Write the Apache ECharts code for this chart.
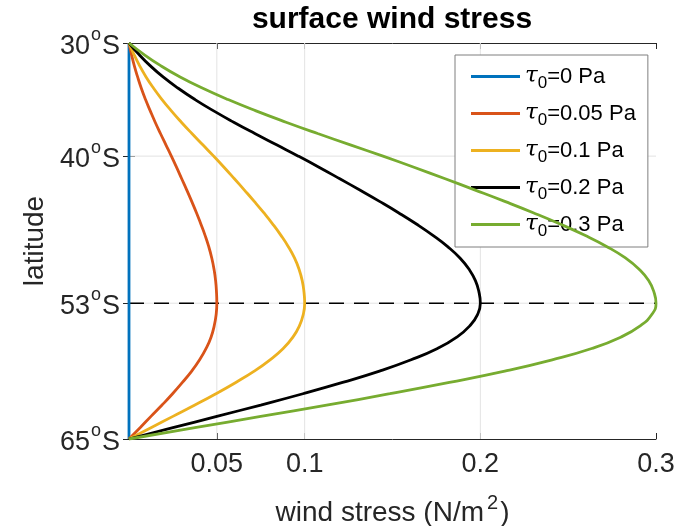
<!DOCTYPE html>
<html>
<head>
<meta charset="utf-8">
<script src="https://cdn.jsdelivr.net/npm/echarts@6/dist/echarts.min.js"></script>
<style>
  html, body { margin: 0; padding: 0; background: #fff; }
  #chart { width: 695px; height: 526px; }
</style>
</head>
<body>
<div id="chart"></div>
<script>
// ---- data ----
const latitudes = [30,31,32,33,34,35,36,37,38,39,40,41,42,43,44,45,46,47,48,49,50,51,52,53,54,55,56,57,58,59,60,61,62,63,64,65];
const tau0Labels = ['0', '0.05', '0.1', '0.2', '0.3'];
const stress_0   = [0,0,0,0,0,0,0,0,0,0,0,0,0,0,0,0,0,0,0,0,0,0,0,0,0,0,0,0,0,0,0,0,0,0,0,0];
const stress_005 = [0,0.0014,0.0030,0.0049,0.0070,0.0094,0.0121,0.0149,0.0179,0.0210,0.0241,0.0271,0.0300,0.0329,0.0357,0.0384,0.0409,0.0433,0.0454,0.0471,0.0484,0.0493,0.0498,0.0500,0.0496,0.0485,0.0467,0.0439,0.0402,0.0357,0.0304,0.0248,0.0188,0.0125,0.0063,0];
const stress_01  = [0,0.0028,0.0060,0.0097,0.0140,0.0188,0.0241,0.0298,0.0358,0.0420,0.0482,0.0542,0.0600,0.0657,0.0713,0.0767,0.0818,0.0865,0.0907,0.0942,0.0968,0.0986,0.0996,0.1000,0.0992,0.0970,0.0933,0.0878,0.0803,0.0713,0.0608,0.0495,0.0375,0.0250,0.0125,0];
const stress_02  = [0,0.0056,0.0120,0.0194,0.0280,0.0376,0.0482,0.0596,0.0716,0.0840,0.0964,0.1084,0.1200,0.1314,0.1426,0.1534,0.1636,0.1730,0.1814,0.1884,0.1936,0.1972,0.1992,0.2000,0.1984,0.1940,0.1866,0.1756,0.1606,0.1426,0.1216,0.0990,0.0750,0.0500,0.0250,0];
const stress_03  = [0,0.0084,0.0180,0.0291,0.0420,0.0564,0.0723,0.0894,0.1074,0.1260,0.1446,0.1626,0.1800,0.1971,0.2139,0.2301,0.2454,0.2595,0.2721,0.2826,0.2904,0.2958,0.2988,0.3000,0.2976,0.2910,0.2799,0.2634,0.2409,0.2139,0.1824,0.1485,0.1125,0.0750,0.0375,0];
const xTicks = [0.05, 0.1, 0.2, 0.3];
const yTicks = [30, 40, 53, 65];
const xGridLines = [0.05, 0.1, 0.2];
const yGridLines = [40, 53];
const refLatitude = 53;
const xRange = [0, 0.3];
const yRange = [30, 65];

const colors = ['#0072BD', '#D95319', '#EDB120', '#000000', '#77AC30'];
const allStress = [stress_0, stress_005, stress_01, stress_02, stress_03];

const FONT = 'Liberation Sans, Arial, Helvetica, sans-serif';
const AX = '#262626';

const series = [];
xGridLines.forEach(v => series.push({
  type: 'line', silent: true, symbol: 'none', z: 1,
  data: [[v, -yRange[0]], [v, -yRange[1]]],
  lineStyle: { color: '#e3e3e3', width: 1 }
}));
yGridLines.forEach(v => series.push({
  type: 'line', silent: true, symbol: 'none', z: 1,
  data: [[xRange[0], -v], [xRange[1], -v]],
  lineStyle: { color: '#e3e3e3', width: 1 }
}));
series.push({
  type: 'line', silent: true, symbol: 'none', z: 2,
  data: [[xRange[0], -refLatitude], [xRange[1], -refLatitude]],
  lineStyle: { color: '#000', width: 1.5, type: [15, 10] }
});
allStress.forEach((vals, k) => series.push({
  name: 'tau' + k,
  type: 'line', symbol: 'none', smooth: 0.5, z: 3 + k,
  data: latitudes.map((lat, i) => [vals[i], -lat]),
  lineStyle: { color: colors[k], width: 2.8 },
  itemStyle: { color: colors[k] }
}));

const option = {
  animation: false,
  backgroundColor: '#fff',
  title: {
    text: 'surface wind stress',
    left: 387, top: 0, textAlign: 'center',
    textStyle: { fontFamily: FONT, fontWeight: 'bold', fontSize: 30, color: '#000' }
  },
  grid: { left: 129, right: 39, top: 43, bottom: 87, containLabel: false, outerBoundsMode: 'none' },
  legend: {
    orient: 'vertical',
    left: 455, top: 55,
    icon: 'rect',
    data: allStress.map((_, k) => 'tau' + k),
    itemWidth: 49, itemHeight: 3, itemGap: 6,
    padding: [6, 12, 7, 16],
    backgroundColor: '#fff',
    borderColor: '#7f7f7f', borderWidth: 1,
    formatter: name => {
      const k = +name.slice(3);
      return '{t|τ}{s|0}{n|=' + tau0Labels[k] + ' Pa}';
    },
    textStyle: {
      rich: {
        t: { fontSize: 23, fontStyle: 'italic', fontFamily: 'DejaVu Serif, serif', color: '#000', lineHeight: 37, verticalAlign: 'middle' },
        s: { fontSize: 17, fontFamily: FONT, color: '#000', lineHeight: 37, verticalAlign: 'middle', padding: [14, 0, 0, 0] },
        n: { fontSize: 22, fontFamily: FONT, color: '#000', lineHeight: 37, verticalAlign: 'middle' }
      }
    }
  },
  xAxis: [{
    type: 'value', min: xRange[0], max: xRange[1], position: 'bottom',
    name: '{n|wind stress (N/m}{sup|2}{n|)}',
    nameLocation: 'middle', nameGap: 54,
    nameTextStyle: {
      fontSize: 28, fontFamily: FONT, color: AX,
      rich: {
        n: { fontSize: 28, fontFamily: FONT, color: AX, verticalAlign: 'bottom' },
        sup: { fontSize: 20, fontFamily: FONT, color: AX, verticalAlign: 'bottom', padding: [0, 2, 14, 3] }
      }
    },
    axisLine: { show: true, lineStyle: { color: AX, width: 1 } },
    axisTick: { show: true, inside: true, length: 6, customValues: xTicks, lineStyle: { color: AX } },
    axisLabel: { customValues: xTicks, fontSize: 27, fontFamily: FONT, color: AX, margin: 12,
      formatter: v => String(v) },
    splitLine: { show: false }
  }, {
    type: 'value', min: xRange[0], max: xRange[1], position: 'top',
    axisLine: { show: true, lineStyle: { color: AX, width: 1 } },
    axisTick: { show: true, inside: true, length: 6, customValues: xTicks, lineStyle: { color: AX } },
    axisLabel: { show: false },
    splitLine: { show: false }
  }],
  yAxis: [{
    type: 'value', min: -yRange[1], max: -yRange[0], position: 'left',
    name: 'latitude', nameLocation: 'middle', nameGap: 78, nameRotate: 90,
    nameTextStyle: { fontSize: 28, fontFamily: FONT, color: AX },
    axisLine: { show: true, lineStyle: { color: AX, width: 1 } },
    axisTick: { show: true, inside: true, length: 6, customValues: yTicks.map(v => -v), lineStyle: { color: AX } },
    axisLabel: { customValues: yTicks.map(v => -v), margin: 9,
      formatter: v => '{n|' + (-v) + '}{o|o}{n|S}',
      rich: {
        n: { fontSize: 27, fontFamily: FONT, color: AX, verticalAlign: 'bottom' },
        o: { fontSize: 18, fontFamily: FONT, color: AX, verticalAlign: 'bottom', padding: [0, 1, 16, 1] }
      } },
    splitLine: { show: false }
  }, {
    type: 'value', min: -yRange[1], max: -yRange[0], position: 'right',
    axisLine: { show: true, lineStyle: { color: AX, width: 1 } },
    axisTick: { show: true, inside: true, length: 6, customValues: yTicks.map(v => -v), lineStyle: { color: AX } },
    axisLabel: { show: false },
    splitLine: { show: false }
  }],
  series: series
};

const chart = echarts.init(document.getElementById('chart'), null, { renderer: 'canvas' });
chart.setOption(option);
</script>
</body>
</html>
